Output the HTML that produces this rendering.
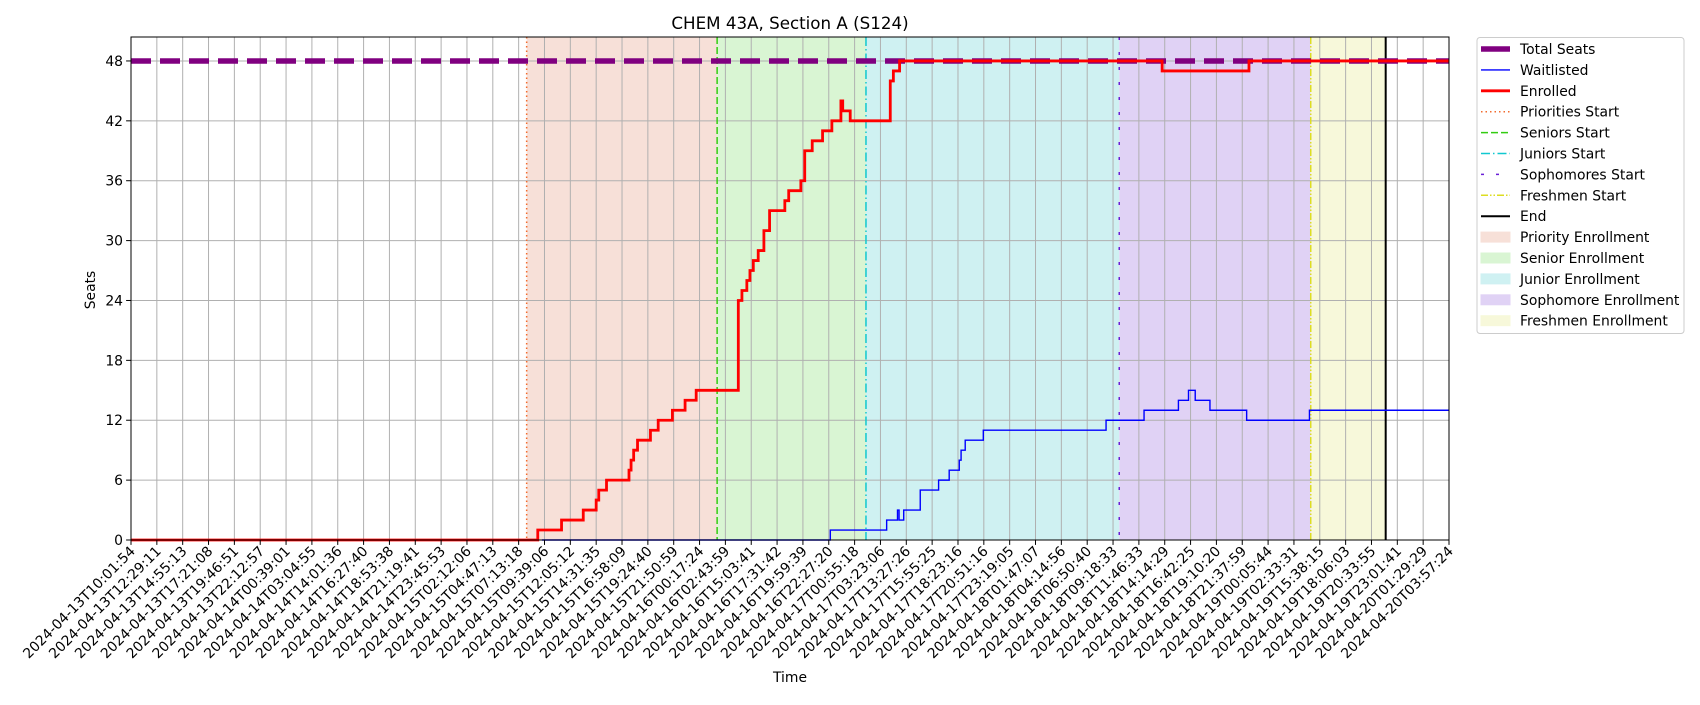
<!DOCTYPE html>
<html><head><meta charset="utf-8"><style>
body{margin:0;background:#fff;}
svg text{font-family:"DejaVu Sans","Liberation Sans",sans-serif;fill:#000;}
</style></head><body>
<svg id="chart" width="1700" height="700" xmlns="http://www.w3.org/2000/svg">
<text x="790" y="29" font-size="16.7" text-anchor="middle">CHEM 43A, Section A (S124)</text>
<g id="spans"></g><g id="grid"></g><g id="vlines"></g><g id="series"></g><g id="axes"></g><g id="legend"></g>
<text transform="translate(95,290) rotate(-90)" font-size="13.9" text-anchor="middle">Seats</text>
<text x="790" y="682" font-size="13.9" text-anchor="middle">Time</text>
</svg>
<script>
const tickLabels=["2024-04-13T10:01:54","2024-04-13T12:29:11","2024-04-13T14:55:13","2024-04-13T17:21:08","2024-04-13T19:46:51","2024-04-13T22:12:57","2024-04-14T00:39:01","2024-04-14T03:04:55","2024-04-14T14:01:36","2024-04-14T16:27:40","2024-04-14T18:53:38","2024-04-14T21:19:41","2024-04-14T23:45:53","2024-04-15T02:12:06","2024-04-15T04:47:13","2024-04-15T07:13:18","2024-04-15T09:39:06","2024-04-15T12:05:12","2024-04-15T14:31:35","2024-04-15T16:58:09","2024-04-15T19:24:40","2024-04-15T21:50:59","2024-04-16T00:17:24","2024-04-16T02:43:59","2024-04-16T15:03:41","2024-04-16T17:31:42","2024-04-16T19:59:39","2024-04-16T22:27:20","2024-04-17T00:55:18","2024-04-17T03:23:06","2024-04-17T13:27:26","2024-04-17T15:55:25","2024-04-17T18:23:16","2024-04-17T20:51:16","2024-04-17T23:19:05","2024-04-18T01:47:07","2024-04-18T04:14:56","2024-04-18T06:50:40","2024-04-18T09:18:33","2024-04-18T11:46:33","2024-04-18T14:14:29","2024-04-18T16:42:25","2024-04-18T19:10:20","2024-04-18T21:37:59","2024-04-19T00:05:44","2024-04-19T02:33:31","2024-04-19T15:38:15","2024-04-19T18:06:03","2024-04-19T20:33:55","2024-04-19T23:01:41","2024-04-20T01:29:29","2024-04-20T03:57:24"];
const yTicks=[0,6,12,18,24,30,36,42,48];
const totalSeats=48;
const enrolledX=[0,15.74,16.66,17.5,18.0,18.1,18.26,18.4,19.27,19.35,19.45,19.6,20.1,20.4,20.95,21.44,21.87,23.5,23.64,23.83,23.95,24.08,24.27,24.49,24.71,25.3,25.45,25.92,26.07,26.36,26.76,27.12,27.47,27.54,27.83,29.38,29.5,29.74,39.9,43.26,51];
const enrolledY=[0,1,2,3,4,5,5,6,7,8,9,10,11,12,13,14,15,24,25,26,27,28,29,31,33,34,35,36,39,40,41,42,44,43,42,46,47,48,47,48,48];
const waitX=[15.9,27.06,29.24,29.66,29.72,29.9,30.54,31.25,31.66,32.05,32.12,32.28,32.98,37.73,39.2,40.53,40.92,41.18,41.75,43.17,45.6,51];
const waitY=[0,1,2,3,2,3,5,6,7,8,9,10,11,12,13,14,15,14,13,12,13,13];
const phaseNames=["Priorities Start","Seniors Start","Juniors Start","Sophomores Start","Freshmen Start","End"];
const phaseX=[15.31,22.68,28.44,38.24,45.65,48.55];
const NS="http://www.w3.org/2000/svg";
const L=131,R=1449,T=37,B=540,XMAX=51,YMAX=50.4;
const sx=v=>L+v*(R-L)/XMAX, sy=v=>B-v*(B-T)/YMAX;
function mk(p,tag,at){const e=document.createElementNS(NS,tag);for(const k in at)e.setAttribute(k,at[k]);document.getElementById(p).appendChild(e);return e;}
const spanCols=["#f7e0d8","#d9f5d3","#cff1f2","#e0d2f5","#f7f8da"];
const spanNames=["priority-enrollment-span","senior-enrollment-span","junior-enrollment-span","sophomore-enrollment-span","freshmen-enrollment-span"];
for(let i=0;i<5;i++){const r=mk("spans","rect",{x:sx(phaseX[i]),y:T,width:sx(phaseX[i+1])-sx(phaseX[i]),height:B-T,fill:spanCols[i]});

}
tickLabels.forEach((t,i)=>{const x=sx(i);
const g=mk("grid","line",{x1:x,x2:x,y1:T,y2:B,stroke:"#b0b0b0","stroke-width":1});


mk("axes","line",{x1:x,x2:x,y1:B,y2:B+4.9,stroke:"#000","stroke-width":1});
const tx=mk("axes","text",{x:0,y:0,"font-size":13.9,"text-anchor":"end",transform:`translate(${x+5},${B+12}) rotate(-45)`});
tx.textContent=t;

});
yTicks.forEach(v=>{const y=sy(v);
const g=mk("grid","line",{x1:L,x2:R,y1:y,y2:y,stroke:"#b0b0b0","stroke-width":1});


mk("axes","line",{x1:L-4.9,x2:L,y1:y,y2:y,stroke:"#000","stroke-width":1});
const tx=mk("axes","text",{x:L-8,y:y+5,"font-size":13.9,"text-anchor":"end"});tx.textContent=v;

});
const phaseStyle=[["#f26b2e","1.5,3"],["#33cc11","7,3"],["#11c8d0","9,3,1.5,3"],["#6a1fd6","3,12"],["#dddd22","7,2,1.5,2,1.5,2"],["#000",""]];
phaseX.forEach((p,i)=>{const l=mk("vlines","line",{x1:sx(p),x2:sx(p),y1:T,y2:B,stroke:phaseStyle[i][0],"stroke-width":i==5?2:1.5,"stroke-dasharray":phaseStyle[i][1]});

});
function stepPath(xs,ys){let d=`M${sx(xs[0])},${sy(ys[0])}`;for(let i=1;i<xs.length;i++){d+=` H${sx(xs[i])} V${sy(ys[i])}`;}return d;}
const ts=mk("series","line",{x1:sx(0),x2:sx(XMAX),y1:sy(totalSeats),y2:sy(totalSeats),stroke:"#800080","stroke-width":5.5,"stroke-dasharray":"20,9"});


const wl=mk("series","path",{d:stepPath(waitX,waitY),fill:"none",stroke:"#0000ff","stroke-width":1.4});


const en=mk("series","path",{d:stepPath(enrolledX,enrolledY),fill:"none",stroke:"#ff0000","stroke-width":2.8});


const fr=mk("axes","rect",{x:L,y:T,width:R-L,height:B-T,fill:"none",stroke:"#000","stroke-width":1});


// legend
const lb=mk("legend","rect",{x:1477,y:37.5,width:207,height:296,rx:3,fill:"#fff",stroke:"#ccc","stroke-width":1});


const legItems=[["Total Seats","line","#800080",5.5,""],["Waitlisted","line","#0000ff",1.4,""],["Enrolled","line","#ff0000",2.8,""],["Priorities Start","line","#f26b2e",1.5,"1.5,3"],["Seniors Start","line","#33cc11",1.5,"7,3"],["Juniors Start","line","#11c8d0",1.5,"9,3,1.5,3"],["Sophomores Start","line","#6a1fd6",1.5,"3,12"],["Freshmen Start","line","#dddd22",1.5,"7,2,1.5,2,1.5,2"],["End","line","#000",2,""],["Priority Enrollment","rect","#f7e0d8"],["Senior Enrollment","rect","#d9f5d3"],["Junior Enrollment","rect","#cff1f2"],["Sophomore Enrollment","rect","#e0d2f5"],["Freshmen Enrollment","rect","#f7f8da"]];
legItems.forEach((it,i)=>{const y=49+i*20.9;
if(it[1]=="line"){mk("legend","line",{x1:1481,x2:1510,y1:y,y2:y,stroke:it[2],"stroke-width":it[3],"stroke-dasharray":it[4]});}
else{mk("legend","rect",{x:1481,y:y-5,width:29,height:10,fill:it[2],stroke:it[2]});}
const t=mk("legend","text",{x:1520,y:y+5,"font-size":13.9});t.textContent=it[0];

});
</script>
</body></html>
